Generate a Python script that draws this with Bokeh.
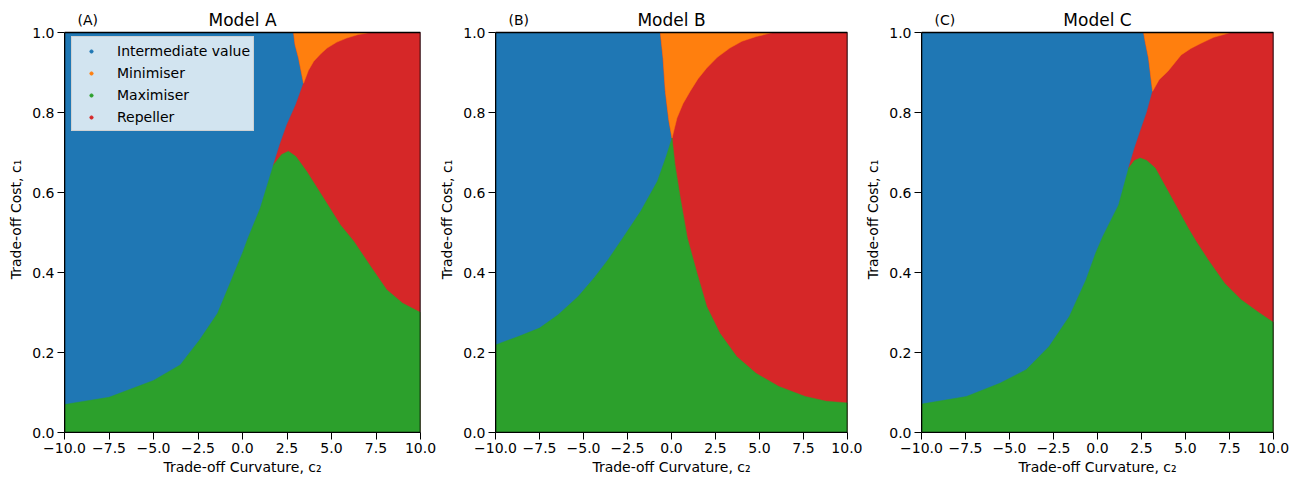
from bokeh.plotting import figure
from bokeh.layouts import row
from bokeh.models import FixedTicker, Legend, LegendItem
from bokeh.core.properties import value
from bokeh.embed import file_html
from bokeh.resources import INLINE

FONT = "DejaVu Sans"

categories = ["Intermediate value", "Minimiser", "Maximiser", "Repeller"]
colors = ["#1f77b4", "#ff7f0e", "#2ca02c", "#d62728"]

c2_range = [-10.0, 10.0]
c1_range = [0.0, 1.0]

x_ticks = [-10.0, -7.5, -5.0, -2.5, 0.0, 2.5, 5.0, 7.5, 10.0]
x_tick_labels = ["\u221210.0", "\u22127.5", "\u22125.0", "\u22122.5", "0.0", "2.5", "5.0", "7.5", "10.0"]
y_ticks = [0.0, 0.2, 0.4, 0.6, 0.8, 1.0]
y_tick_labels = ["0.0", "0.2", "0.4", "0.6", "0.8", "1.0"]

x_label = "Trade-off Curvature, c\u2082"
y_label = "Trade-off Cost, c\u2081"

# ---------- Model A ----------
a_max_c2 = [-10.0, -7.5, -5.0, -3.5, -2.4, -1.4, -0.7, 0.0, 0.3, 1.0, 1.74, 2.2, 2.58, 3.0, 3.6, 4.55, 5.5, 6.25, 7.2, 8.1, 9.0, 10.0]
a_max_c1 = [0.070, 0.088, 0.130, 0.169, 0.232, 0.298, 0.373, 0.449, 0.485, 0.561, 0.669, 0.695, 0.703, 0.690, 0.653, 0.586, 0.519, 0.478, 0.415, 0.357, 0.323, 0.300]
a_repint_c2 = [1.74, 2.1, 2.49, 3.0, 3.43]
a_repint_c1 = [0.669, 0.720, 0.769, 0.820, 0.873]
a_minint_c2 = [3.43, 3.15, 2.95, 2.87]
a_minint_c1 = [0.873, 0.936, 0.970, 1.0]
a_minrep_c2 = [3.43, 3.7, 4.0, 4.4, 4.75, 5.3, 5.85, 6.5, 7.2]
a_minrep_c1 = [0.873, 0.905, 0.928, 0.947, 0.961, 0.976, 0.986, 0.995, 1.0]

# ---------- Model B ----------
b_max_c2 = [-10.0, -8.7, -7.5, -6.45, -5.3, -4.4, -3.6, -2.8, -1.75, -0.8, -0.3, 0.03, 0.2, 0.5, 0.9, 1.45, 2.0, 2.75, 3.7, 4.8, 6.1, 7.6, 8.8, 10.0]
b_max_c1 = [0.219, 0.240, 0.261, 0.294, 0.340, 0.386, 0.432, 0.484, 0.553, 0.628, 0.690, 0.736, 0.669, 0.586, 0.486, 0.398, 0.315, 0.248, 0.190, 0.148, 0.115, 0.090, 0.078, 0.074]
b_repint_c2 = [0.03]
b_repint_c1 = [0.736]
b_minint_c2 = [0.03, -0.15, -0.35, -0.48, -0.63]
b_minint_c1 = [0.736, 0.780, 0.853, 0.936, 1.0]
b_minrep_c2 = [0.03, 0.31, 0.65, 1.06, 1.5, 2.0, 2.6, 3.31, 4.0, 4.82, 5.75]
b_minrep_c1 = [0.736, 0.786, 0.822, 0.853, 0.884, 0.911, 0.938, 0.961, 0.978, 0.990, 1.0]

# ---------- Model C ----------
c_max_c2 = [-10.0, -7.45, -5.55, -4.05, -2.75, -1.6, -0.65, -0.1, 0.3, 1.2, 1.77, 2.1, 2.43, 2.8, 3.28, 4.22, 5.15, 5.6, 6.28, 7.22, 8.16, 9.1, 10.0]
c_max_c1 = [0.071, 0.090, 0.123, 0.157, 0.215, 0.290, 0.382, 0.449, 0.490, 0.569, 0.661, 0.680, 0.686, 0.680, 0.661, 0.586, 0.511, 0.478, 0.432, 0.373, 0.332, 0.302, 0.275]
c_repint_c2 = [1.77, 2.1, 2.43, 2.8, 3.13]
c_repint_c1 = [0.661, 0.710, 0.753, 0.800, 0.853]
c_minint_c2 = [3.13, 2.9, 2.72, 2.62]
c_minint_c1 = [0.853, 0.936, 0.975, 1.0]
c_minrep_c2 = [3.13, 3.5, 4.0, 4.75, 5.3, 5.88, 6.6, 7.57]
c_minrep_c1 = [0.853, 0.882, 0.903, 0.944, 0.960, 0.973, 0.988, 1.0]

# layout: frame spans canvas y 6..432; the c1 = 0..1 box occupies 32..432 (400 px)
BORDER_TOP = 6
BORDER_BOTTOM = 50
Y_TOP = (482 - BORDER_TOP - BORDER_BOTTOM) / 400.0


def make_panel(tag, title, max_c2, max_c1, repint_c2, repint_c1, minint_c2, minint_c1,
               minrep_c2, minrep_c1, width, border_left, border_right, legend=False):
    p = figure(width=width, height=482, x_range=(c2_range[0], c2_range[1]),
               y_range=(c1_range[0], c1_range[0] + Y_TOP), output_backend="svg",
               toolbar_location=None, min_border_left=border_left,
               min_border_right=border_right, min_border_top=BORDER_TOP,
               min_border_bottom=BORDER_BOTTOM)
    p.title.visible = False
    p.background_fill_color = "white"
    p.border_fill_color = "white"
    p.grid.visible = False
    p.outline_line_color = None

    # Intermediate value (background region)
    p.quad(left=[c2_range[0]], right=[c2_range[1]], bottom=[c1_range[0]], top=[c1_range[1]],
           fill_color=colors[0], line_color=None)
    # Repeller
    left_c2 = list(repint_c2) + list(minint_c2[1:])
    left_c1 = list(repint_c1) + list(minint_c1[1:])
    red_x = left_c2 + [c2_range[1], c2_range[1], left_c2[0]]
    red_y = left_c1 + [c1_range[1], c1_range[0], c1_range[0]]
    p.patch(red_x, red_y, fill_color=colors[3], line_color=colors[3], line_width=0.5)
    # Minimiser
    or_x = list(minint_c2) + list(minrep_c2[::-1])
    or_y = list(minint_c1) + list(minrep_c1[::-1])
    p.patch(or_x, or_y, fill_color=colors[1], line_color=colors[1], line_width=0.5)
    # Maximiser
    g_x = [c2_range[0]] + list(max_c2) + [c2_range[1]]
    g_y = [c1_range[0]] + list(max_c1) + [c1_range[0]]
    p.patch(g_x, g_y, fill_color=colors[2], line_color=colors[2], line_width=0.5)

    # frame (spines) around the c1 = 0..1 box
    p.quad(left=[c2_range[0]], right=[c2_range[1]], bottom=[c1_range[0]], top=[c1_range[1]],
           fill_color=None, line_color="black", line_width=1.6)

    # titles
    p.text(x=[(c2_range[0] + c2_range[1]) / 2], y=[c1_range[1]], text=[title],
           text_font=value(FONT), text_font_size="17px", text_align="center",
           text_baseline="alphabetic", y_offset=-13, text_color="black")
    p.text(x=[c2_range[0]], y=[c1_range[1]], text=[tag],
           text_font=value(FONT), text_font_size="14px", text_align="left",
           text_baseline="alphabetic", x_offset=13, y_offset=-13, text_color="black")

    # axes
    p.xaxis.ticker = FixedTicker(ticks=x_ticks)
    p.xaxis.major_label_overrides = {t: l for t, l in zip(x_ticks, x_tick_labels)}
    p.yaxis.ticker = FixedTicker(ticks=y_ticks)
    p.yaxis.major_label_overrides = {t: l for t, l in zip(y_ticks, y_tick_labels)}
    p.yaxis.bounds = (c1_range[0], c1_range[1])
    p.xaxis.axis_label = x_label
    p.yaxis.axis_label = y_label
    for ax in (p.xaxis, p.yaxis):
        ax.axis_label_text_font = FONT
        ax.axis_label_text_font_size = "14px"
        ax.axis_label_text_font_style = "normal"
        ax.axis_label_text_color = "black"
        ax.major_label_text_font = FONT
        ax.major_label_text_font_size = "14px"
        ax.major_label_text_color = "black"
        ax.major_tick_in = 0
        ax.major_tick_out = 7
        ax.minor_tick_in = 0
        ax.minor_tick_out = 0
        ax.major_tick_line_color = "black"
        ax.axis_line_color = "black"
        ax.major_label_standoff = 3
    p.xaxis.axis_label_standoff = 3
    p.yaxis.axis_label_standoff = 5

    if legend:
        items = []
        for name, col in zip(categories, colors):
            r = p.scatter(x=[float("nan")], y=[float("nan")], size=3,
                          fill_color=col, line_color=col, marker="circle")
            items.append(LegendItem(label=name, renderers=[r]))
        leg = Legend(items=items, location=(7, 301))
        leg.margin = 0
        leg.padding = 3
        leg.spacing = 1
        leg.label_height = 21
        leg.glyph_height = 8
        leg.glyph_width = 32
        leg.label_standoff = 10
        leg.label_text_font = FONT
        leg.label_text_font_size = "14px"
        leg.label_text_color = "black"
        leg.background_fill_color = "white"
        leg.background_fill_alpha = 0.8
        leg.border_line_color = "#cccccc"
        leg.border_line_alpha = 0.8
        p.add_layout(leg, "center")
    return p


pa = make_panel("(A)", "Model A", a_max_c2, a_max_c1, a_repint_c2, a_repint_c1,
                a_minint_c2, a_minint_c1, a_minrep_c2, a_minrep_c1, 436, 64, 16, legend=True)
pb = make_panel("(B)", "Model B", b_max_c2, b_max_c1, b_repint_c2, b_repint_c1,
                b_minint_c2, b_minint_c1, b_minrep_c2, b_minrep_c1, 426, 56, 15)
pc = make_panel("(C)", "Model C", c_max_c2, c_max_c1, c_repint_c2, c_repint_c1,
                c_minint_c2, c_minint_c1, c_minrep_c2, c_minrep_c1, 437, 56, 26)

layout = row(pa, pb, pc)
open("out.html", "w").write(file_html(layout, INLINE))
